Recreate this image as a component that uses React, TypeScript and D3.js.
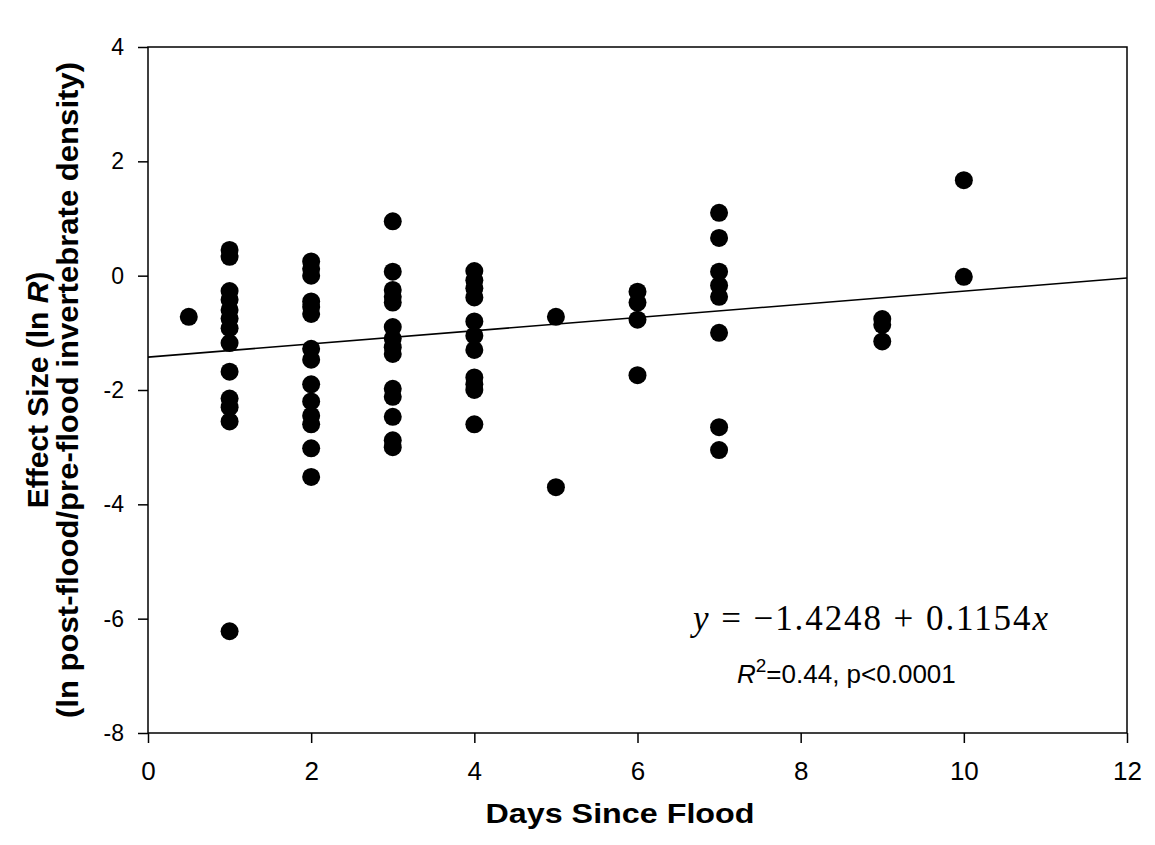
import { useEffect, useRef } from "react";
import * as d3 from "d3";

// days since flood and effect size (ln R), one list per day
const days = [0.5, 1, 2, 3, 4, 5, 6, 7, 9, 10];
const effects = [
  [-0.72],
  [0.45, 0.33, -0.27, -0.42, -0.6, -0.75, -0.92, -1.18, -1.68, -2.15, -2.3, -2.55, -6.22],
  [0.25, 0.12, 0.0, -0.45, -0.55, -0.67, -1.28, -1.47, -1.9, -2.2, -2.45, -2.6, -3.02, -3.52],
  [0.95, 0.07, -0.25, -0.37, -0.47, -0.9, -1.1, -1.25, -1.37, -1.98, -2.12, -2.47, -2.88, -3.0],
  [0.08, -0.08, -0.22, -0.38, -0.8, -1.05, -1.3, -1.78, -1.9, -2.0, -2.6],
  [-0.72, -3.7],
  [-0.28, -0.47, -0.77, -1.74],
  [1.1, 0.66, 0.07, -0.17, -0.37, -1.0, -2.65, -3.05],
  [-0.76, -0.86, -1.15],
  [1.67, -0.02],
];
const xTicks = [0, 2, 4, 6, 8, 10, 12];
const yTicks = [4, 2, 0, -2, -4, -6, -8];
const intercept = -1.4248;
const slope = 0.1154;

const sans = "Liberation Sans, Arial, sans-serif";

function App() {
  const ref = useRef<SVGSVGElement>(null);

  useEffect(() => {
    const svg = d3.select(ref.current);
    svg.selectAll("*").remove();

    const left = 148, right = 1127, top = 47, bottom = 733;
    const x = d3.scaleLinear().domain([0, 12]).range([left, right]);
    const y = d3.scaleLinear().domain([-8, 4]).range([bottom, top]);

    const pts = days.flatMap((d, i) => effects[i].map(v => [d, v]));

    // frame
    svg.append("rect")
      .attr("x", left).attr("y", top)
      .attr("width", right - left).attr("height", bottom - top)
      .attr("fill", "none").attr("stroke", "#000").attr("stroke-width", 1.5);

    const xAxis = svg.append("g")
      .attr("transform", `translate(0,${bottom})`)
      .call(d3.axisBottom(x).tickValues(xTicks).tickFormat(d => String(d))
        .tickSize(10).tickPadding(19).tickSizeOuter(0));
    xAxis.select(".domain").remove();
    xAxis.selectAll("line").attr("stroke-width", 1.5);
    xAxis.attr("font-family", sans).attr("font-size", 26);
    xAxis.selectAll("text").attr("fill", "#000").attr("dy", "0.71em");

    const yAxis = svg.append("g")
      .attr("transform", `translate(${left},0)`)
      .call(d3.axisLeft(y).tickValues(yTicks).tickFormat(d => String(d))
        .tickSize(10).tickPadding(14).tickSizeOuter(0));
    yAxis.select(".domain").remove();
    yAxis.selectAll("line").attr("stroke-width", 1.5);
    yAxis.attr("font-family", sans).attr("font-size", 23);
    yAxis.selectAll("text").attr("fill", "#000");

    // regression line
    svg.append("line")
      .attr("x1", x(0)).attr("y1", y(intercept))
      .attr("x2", x(12)).attr("y2", y(intercept + slope * 12))
      .attr("stroke", "#000").attr("stroke-width", 1.6);

    svg.append("g").selectAll("circle")
      .data(pts)
      .enter()
      .append("circle")
      .attr("cx", d => x(d[0]))
      .attr("cy", d => y(d[1]))
      .attr("r", 9)
      .attr("fill", "#000");

    // axis titles
    svg.append("text")
      .attr("x", 620).attr("y", 823)
      .attr("text-anchor", "middle")
      .attr("font-family", sans)
      .attr("font-weight", "bold").attr("font-size", 28)
      .attr("textLength", 269).attr("lengthAdjust", "spacingAndGlyphs")
      .text("Days Since Flood");

    const yt = svg.append("text")
      .attr("transform", `translate(48,390) rotate(-90)`)
      .attr("text-anchor", "middle")
      .attr("font-family", sans)
      .attr("font-weight", "bold").attr("font-size", 30);
    yt.append("tspan").text("Effect Size (ln ");
    yt.append("tspan").attr("font-style", "italic").text("R");
    yt.append("tspan").text(")");
    svg.append("text")
      .attr("transform", `translate(78,390) rotate(-90)`)
      .attr("text-anchor", "middle")
      .attr("font-family", sans)
      .attr("font-weight", "bold").attr("font-size", 30)
      .attr("textLength", 656).attr("lengthAdjust", "spacingAndGlyphs")
      .text("(ln post-flood/pre-flood invertebrate density)");

    // equation
    const eq = svg.append("text")
      .attr("x", 693).attr("y", 630)
      .attr("font-family", "Liberation Serif, Times New Roman, serif")
      .attr("font-size", 35)
      .attr("textLength", 355).attr("lengthAdjust", "spacing");
    eq.append("tspan").attr("font-style", "italic").text("y");
    eq.append("tspan").text(" = \u22121.4248 + 0.1154");
    eq.append("tspan").attr("font-style", "italic").text("x");

    const r2 = svg.append("text")
      .attr("x", 737).attr("y", 683)
      .attr("font-family", sans)
      .attr("font-size", 26);
    r2.append("tspan").attr("font-style", "italic").text("R");
    r2.append("tspan").attr("dy", -11).attr("font-size", 19).text("2");
    r2.append("tspan").attr("dy", 11).text("=0.44, p<0.0001");
  }, []);

  return (
    <svg ref={ref} width={1155} height={845}
      style={{ position: "absolute", left: 0, top: 0, background: "#fff" }} />
  );
}

export default App;
